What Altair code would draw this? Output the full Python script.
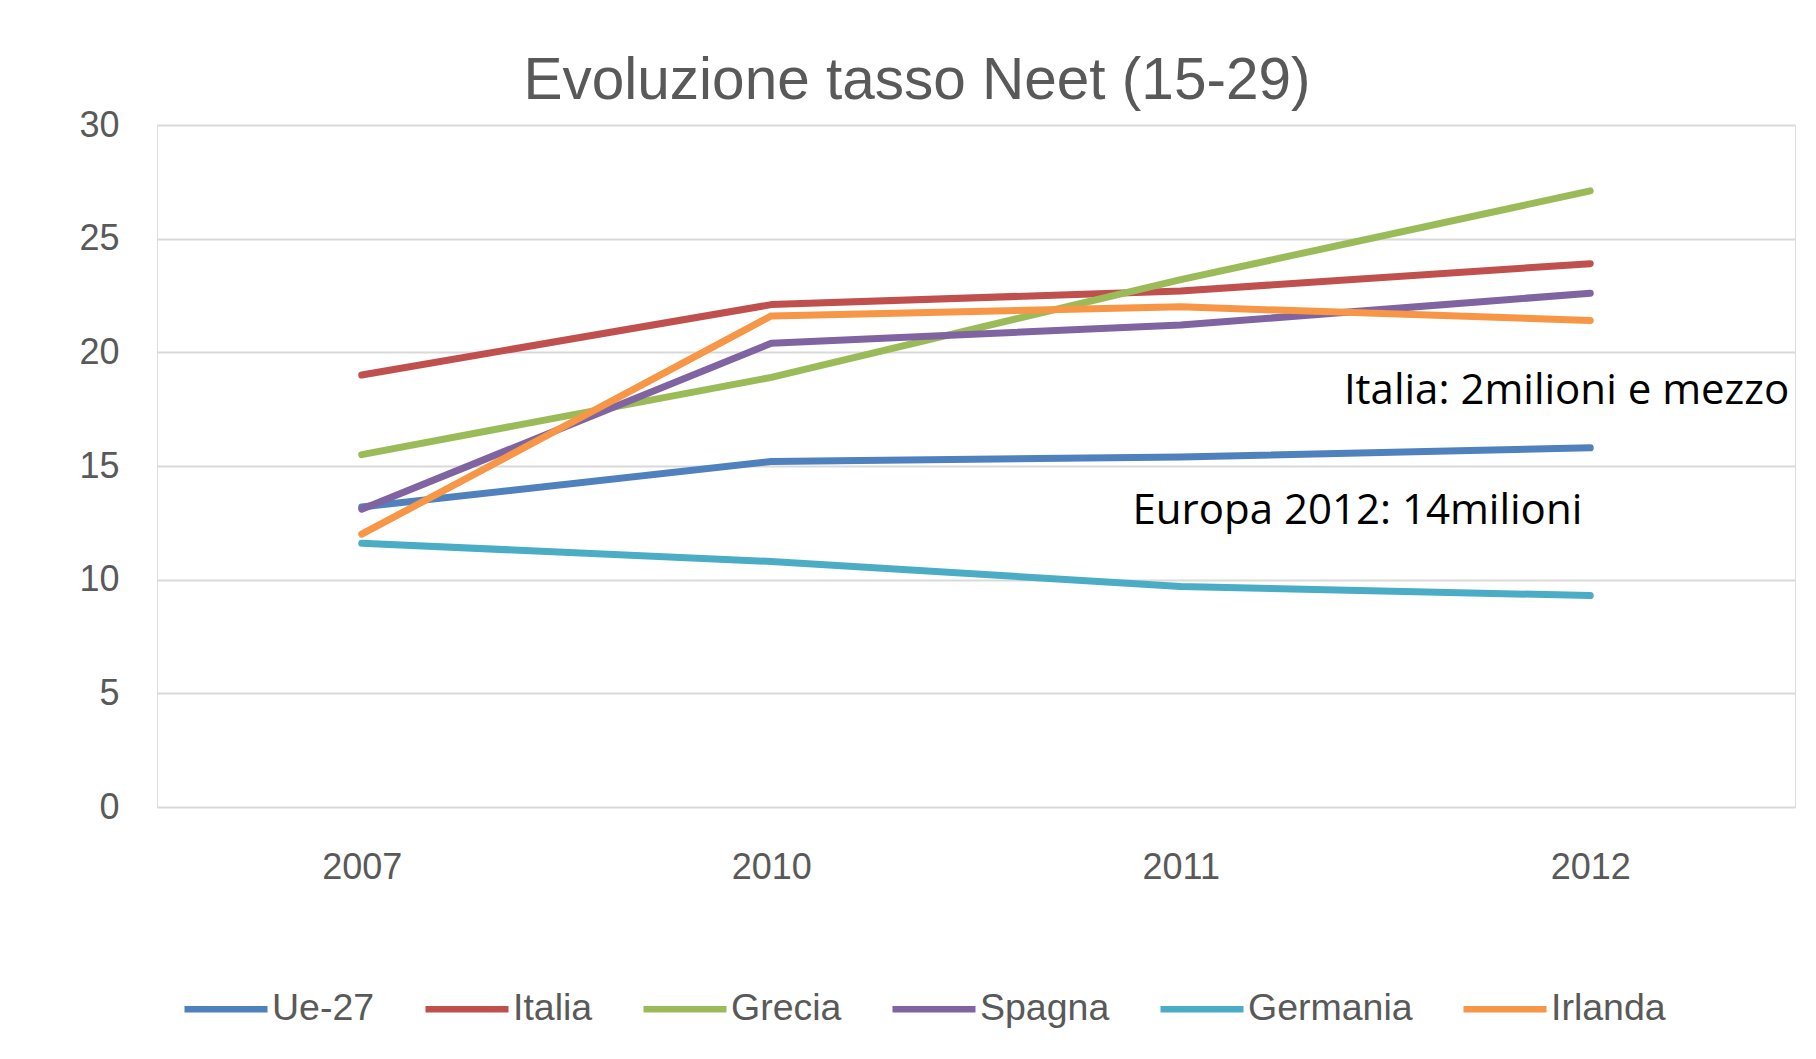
import altair as alt
import pandas as pd

years = ["2007", "2010", "2011", "2012"]
series_names = ["Ue-27", "Italia", "Grecia", "Spagna", "Germania", "Irlanda"]
series_colors = ["#4F81BD", "#C0504D", "#9BBB59", "#8064A2", "#4BACC6", "#F79646"]

ue27 = [13.2, 15.2, 15.4, 15.8]
italia = [19.0, 22.1, 22.7, 23.9]
grecia = [15.5, 18.9, 23.2, 27.1]
spagna = [13.1, 20.4, 21.2, 22.6]
germania = [11.6, 10.8, 9.7, 9.3]
irlanda = [12.0, 21.6, 22.0, 21.4]

y_ticks = [0, 5, 10, 15, 20, 25, 30]

annotation_texts = ["Italia: 2milioni e mezzo", "Europa 2012: 14milioni"]
annotation_years = ["2012", "2012"]
annotation_values = [18.3, 13.0]
annotation_dx = [199, -8]

all_series = [ue27, italia, grecia, spagna, germania, irlanda]
rows = []
for name, vals in zip(series_names, all_series):
    for yr, v in zip(years, vals):
        rows.append({"year": yr, "series": name, "value": v})
df = pd.DataFrame(rows)

GRAY = "#595959"

lines = alt.Chart(df).mark_line(strokeWidth=7, strokeCap="round", strokeJoin="round").encode(
    x=alt.X("year:N", sort=years, title=None,
            axis=alt.Axis(labelAngle=0, ticks=False, domain=False, grid=False,
                          labelFontSize=36, labelColor=GRAY, labelFont="Liberation Sans",
                          labelPadding=43)),
    y=alt.Y("value:Q", title=None, scale=alt.Scale(domain=[0, 30], nice=False),
            axis=alt.Axis(values=y_ticks, grid=True, gridColor="#d9d9d9", gridWidth=2,
                          domain=False, ticks=False, labelFontSize=36, labelColor=GRAY,
                          labelFont="Liberation Sans", labelPadding=38)),
    color=alt.Color("series:N", sort=series_names,
                    scale=alt.Scale(domain=series_names, range=series_colors),
                    legend=alt.Legend(orient="none", legendX=24, legendY=839,
                                      direction="horizontal", columns=6, title=None,
                                      symbolType="stroke", symbolSize=6889,
                                      symbolStrokeWidth=6.5, labelFontSize=37.5,
                                      labelColor=GRAY, labelFont="Liberation Sans",
                                      labelLimit=400, columnPadding=37, labelOffset=1,
                                      padding=0)),
)

layers = [lines]
for txt, yr, val, dx in zip(annotation_texts, annotation_years, annotation_values, annotation_dx):
    ann_df = pd.DataFrame({"year": [yr], "value": [val], "label": [txt]})
    layers.append(
        alt.Chart(ann_df).mark_text(align="right", baseline="middle", font="Open Sans",
                                    fontSize=42, color="black", dx=dx).encode(
            x=alt.X("year:N", sort=years),
            y=alt.Y("value:Q"),
            text="label:N",
        )
    )

chart = alt.layer(*layers).properties(
    width=1638,
    height=682,
    title=alt.TitleParams("Evoluzione tasso Neet (15-29)", fontSize=58.5, font="Liberation Sans",
                          color=GRAY, fontWeight="normal", anchor="middle", frame="group",
                          offset=-50, baseline="alphabetic", dx=-59),
    autosize=alt.AutoSizeParams(type="none"),
    padding={"left": 149, "top": 117, "right": 10, "bottom": 240},
).configure_view(stroke=None).configure(background="white")

chart.save("out.html", embed_options={"renderer": "svg", "actions": False})
